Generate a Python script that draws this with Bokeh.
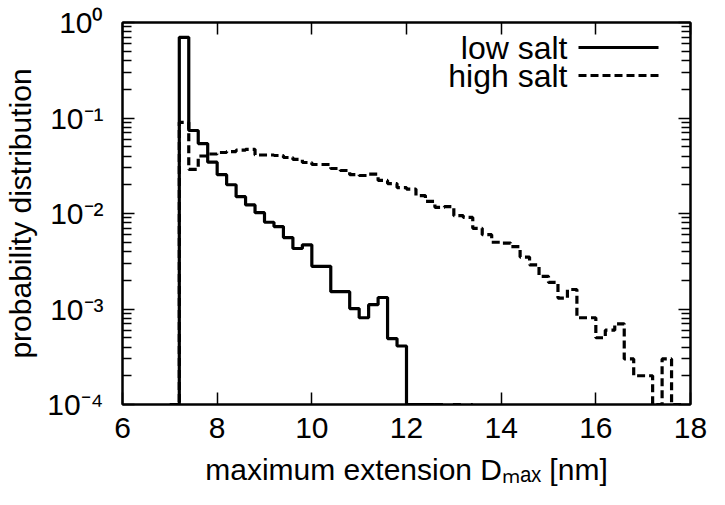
import numpy as np
from bokeh.plotting import figure
from bokeh.models import FixedTicker, LogAxis, LinearAxis, Label, Range1d
from bokeh.embed import file_html
from bokeh.resources import INLINE

# ---------------- data ----------------
bin_width = 0.2
bins_start = 7.0          # left edge of first bin (nm)
low_salt = [0, 0.70, 0.074, 0.054, 0.0345, 0.0255, 0.020, 0.0150, 0.0123, 0.0102,
            0.0081, 0.0073, 0.0056, 0.0043, 0.0047, 0.0028, 0.0028, 0.00152, 0.00152,
            0.00101, 0.00081, 0.00111, 0.00132, 0.00049, 0.00041, 0, 0, 0]
high_salt = [0, 0.090, 0.029, 0.040, 0.042, 0.0435, 0.0445, 0.046, 0.047, 0.041,
             0.0410, 0.0405, 0.0386, 0.0368, 0.0342, 0.0326, 0.0326, 0.0296, 0.0282,
             0.0255, 0.0250, 0.0258, 0.0222, 0.0206, 0.0187, 0.0180, 0.0154, 0.0134,
             0.0116, 0.0118, 0.0095, 0.0091, 0.0070, 0.0060, 0.0050, 0.0049, 0.0045,
             0.0035, 0.0029, 0.0022, 0.0019, 0.0013, 0.0016, 0.00081, 0.00081, 0.0005,
             0.0006, 0.0007, 0.0003, 0.0002, 0.0002, 0, 0.0003, 0]
floor_dash_x = [12.6, 13.4]      # dashed trace running along the lower border

x_ticks = [6, 8, 10, 12, 14, 16, 18]
y_exponents = [-4, -3, -2, -1, 0]
y_ticks = [10.0 ** k for k in y_exponents]
y_minor = [m * 10.0 ** k for k in y_exponents[:-1] for m in range(2, 10)]
SUP = {"-": "\u207b", "0": "\u2070", "1": "\u00b9", "2": "\u00b2", "3": "\u00b3", "4": "\u2074"}
y_tick_labels = ["10" + "".join(SUP[c] for c in str(k)) for k in y_exponents]

x_title = "maximum extension D\u2098\u2090\u2093 [nm]"
y_title = "probability distribution"
series_names = ["low salt", "high salt"]

XMIN, XMAX = 6, 18
YMIN, YMAX = 1e-4, 1

FONT = "Liberation Sans"

# ---------------- figure ----------------
FRAME_W, FRAME_H = 568, 382
p = figure(width=717, height=497, x_range=Range1d(XMIN, XMAX), y_range=Range1d(YMIN, YMAX),
           y_axis_type="log", output_backend="svg", toolbar_location=None,
           min_border_left=122, min_border_right=27, min_border_top=22, min_border_bottom=93)
p.background_fill_color = "white"
p.border_fill_color = "white"
p.grid.visible = False
p.outline_line_color = "black"
p.outline_line_width = 2

def px2x(px):
    return float(XMIN + px / FRAME_W * (XMAX - XMIN))

def py2y(py):
    return float(10 ** (np.log10(YMAX) - py / FRAME_H * (np.log10(YMAX) - np.log10(YMIN))))

def style_axis(ax, show_labels):
    ax.axis_line_width = 2
    ax.axis_line_color = "black"
    ax.major_tick_in = 12
    ax.major_tick_out = 0
    ax.minor_tick_in = 9
    ax.minor_tick_out = 0
    ax.major_tick_line_width = 1.5
    ax.minor_tick_line_width = 1.5
    ax.major_tick_line_color = "black"
    ax.minor_tick_line_color = "black"
    if show_labels:
        ax.major_label_text_font = FONT
        ax.major_label_text_font_size = "30px"
        ax.major_label_text_color = "black"
        ax.axis_label_text_font = FONT
        ax.axis_label_text_font_size = "30px"
        ax.axis_label_text_font_style = "normal"
        ax.axis_label_text_color = "black"
    else:
        ax.major_label_text_font_size = "1px"
        ax.major_label_text_alpha = 0
        ax.major_label_standoff = 0

xa = p.xaxis[0]
ya = p.yaxis[0]
xa.ticker = FixedTicker(ticks=x_ticks, minor_ticks=[])
ya.ticker = FixedTicker(ticks=y_ticks, minor_ticks=y_minor)
style_axis(xa, True)
style_axis(ya, True)
xa.major_label_standoff = 13
xa.axis_label = x_title
xa.axis_label_standoff = 12
ya.major_label_overrides = {v: s for v, s in zip(y_ticks, y_tick_labels)}
ya.major_label_standoff = 19
ya.axis_label = y_title
ya.axis_label_standoff = 7

top = LinearAxis(ticker=FixedTicker(ticks=x_ticks, minor_ticks=[]))
style_axis(top, False)
p.add_layout(top, "above")
right = LogAxis(ticker=FixedTicker(ticks=y_ticks, minor_ticks=y_minor))
style_axis(right, False)
p.add_layout(right, "right")

# ---------------- histogram steps ----------------
def steps(vals):
    v = np.maximum(np.array(vals, dtype=float), YMIN)
    edges = bins_start + bin_width * np.arange(len(v) + 1)
    return edges, np.append(v, v[-1])

lx, ly = steps(low_salt)
hx, hy = steps(high_salt)
p.step(lx, ly, mode="after", line_color="black", line_width=3.2)
p.step(hx, hy, mode="after", line_color="black", line_width=3.2, line_dash="8 4")
p.line(floor_dash_x, [YMIN, YMIN], line_color="black", line_width=3.2, line_dash="8 10")

# ---------------- legend (text left of sample, gnuplot style) ----------------
leg_text_px = 567 - 122
leg_line_px = (578 - 122, 658 - 122)
for name, py, dash in zip(series_names, [47 - 22, 75 - 22], ["solid", "8 4"]):
    yy = py2y(py)
    p.add_layout(Label(x=px2x(leg_text_px), y=yy, text=name, text_align="right",
                       text_baseline="middle", text_font=FONT, text_font_size="32px",
                       text_color="black"))
    p.line([px2x(leg_line_px[0]), px2x(leg_line_px[1])], [yy, yy], line_color="black",
           line_width=3.2, line_dash=dash)

open("out.html", "w").write(file_html(p, INLINE))
